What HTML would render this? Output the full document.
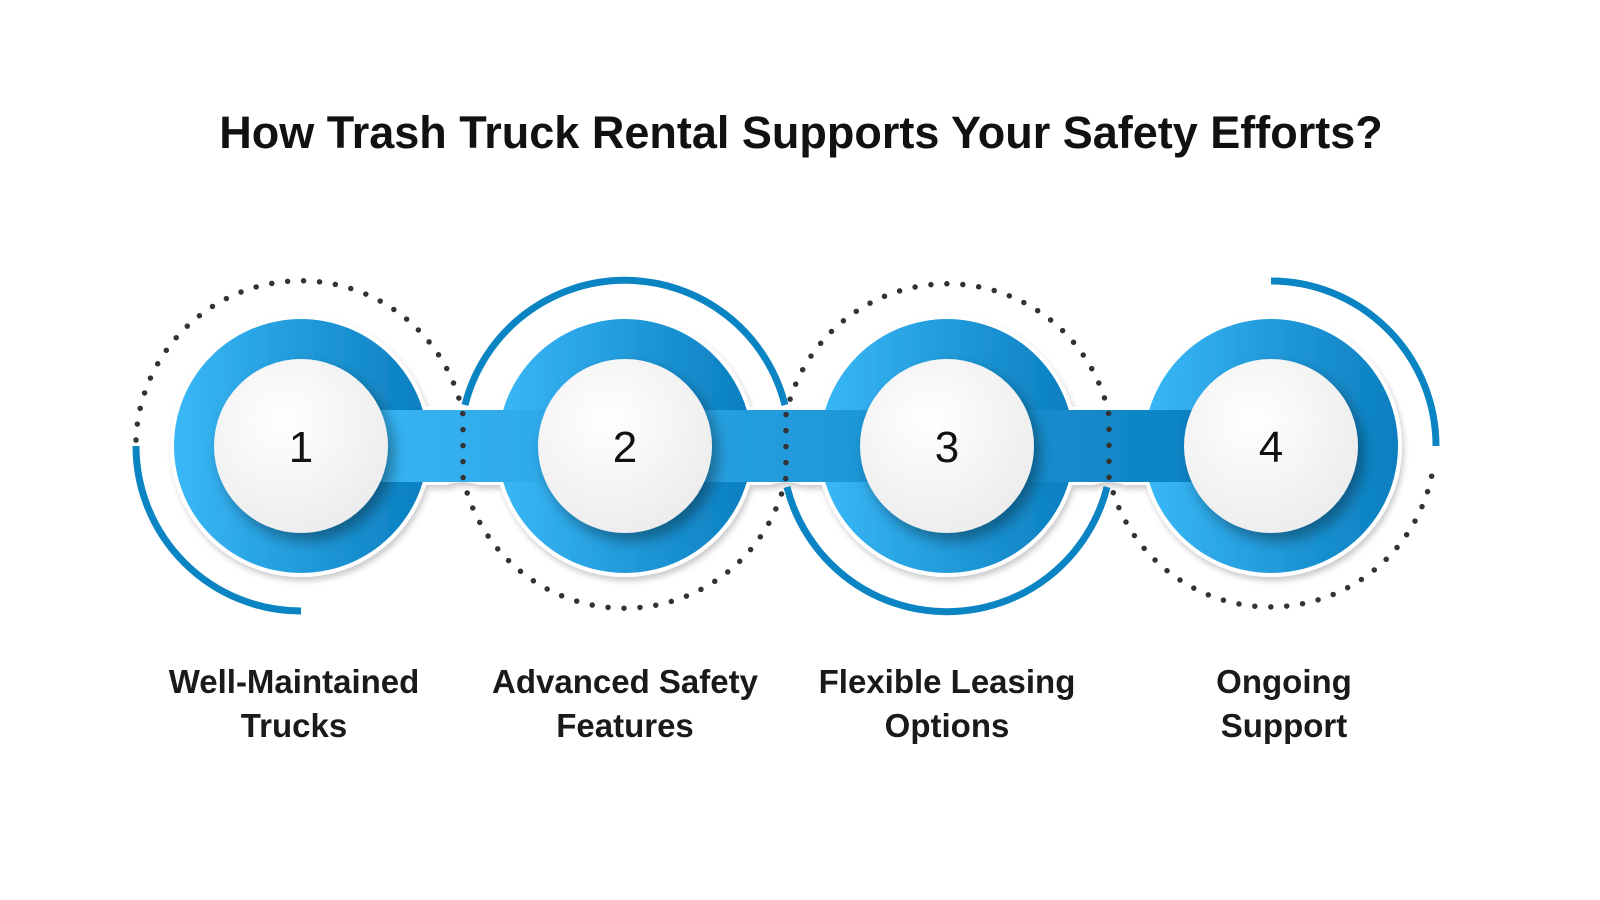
<!DOCTYPE html>
<html><head><meta charset="utf-8"><style>
body{margin:0;background:#fff;}
svg{display:block}
text{font-family:"Liberation Sans","DejaVu Sans",sans-serif;}
</style></head><body>
<svg width="1600" height="900" viewBox="0 0 1600 900">
<defs>
<linearGradient id="bg" x1="0" x2="1" y1="0" y2="0">
<stop offset="0" stop-color="#3ab8f7"/><stop offset="1" stop-color="#0a7ebf"/>
</linearGradient>
<radialGradient id="wg" cx="0.4" cy="0.35" r="0.7">
<stop offset="0" stop-color="#ffffff"/><stop offset="1" stop-color="#ececec"/>
</radialGradient>
<filter id="sh" x="-30%" y="-30%" width="160%" height="160%">
<feDropShadow dx="6" dy="8" stdDeviation="7" flood-color="#000" flood-opacity="0.35"/>
</filter>
<filter id="sh2" x="-10%" y="-30%" width="120%" height="160%">
<feDropShadow dx="2" dy="4" stdDeviation="3" flood-color="#000" flood-opacity="0.2"/>
</filter>
<mask id="m">
<rect width="1600" height="900" fill="#fff"/>
<g fill="#000">
<circle cx="463" cy="366" r="44"/><circle cx="463" cy="526" r="44"/>
<circle cx="786" cy="366" r="44"/><circle cx="786" cy="526" r="44"/>
<circle cx="1109" cy="366" r="44"/><circle cx="1109" cy="526" r="44"/>
</g>
</mask>
</defs>
<text x="801" y="148" text-anchor="middle" font-size="45" font-weight="bold" fill="#111">How Trash Truck Rental Supports Your Safety Efforts?</text>

<g filter="url(#sh2)">
<g mask="url(#m)">
<g fill="#fff">
<circle cx="301" cy="446" r="131"/>
<circle cx="625" cy="446" r="131"/>
<circle cx="947" cy="446" r="131"/>
<circle cx="1271" cy="446" r="131"/>
<rect x="301" y="407" width="970" height="78"/>
</g>
<g fill="url(#bg)">
<circle cx="301" cy="446" r="127"/>
<circle cx="625" cy="446" r="127"/>
<circle cx="947" cy="446" r="127"/>
<circle cx="1271" cy="446" r="127"/>
<rect x="301" y="410" width="970" height="72"/>
</g>
</g>
</g>

<g fill="url(#wg)" filter="url(#sh)">
<circle cx="301" cy="446" r="87"/>
<circle cx="625" cy="446" r="87"/>
<circle cx="947" cy="446" r="87"/>
<circle cx="1271" cy="446" r="87"/>
</g>

<g fill="none" stroke="#0b84c4" stroke-width="7">
<path d="M136,446 A165,165 0 0 0 301,611"/>
<path d="M465,405 A165,165 0 0 1 785,405"/>
<path d="M787,487 A165,165 0 0 0 1107,487"/>
<path d="M1271,281 A165,165 0 0 1 1436,446"/>
</g>
<path fill="none" stroke="#333" stroke-width="5.5" stroke-linecap="round" stroke-dasharray="0 16"
d="M136,440 A165,165 0 0 1 463,415 L463,477 A165,165 0 0 0 786,477 L786,415 A165,165 0 0 1 1109,415 L1109,477 A165,165 0 0 0 1434,462"/>

<g font-size="44" text-anchor="middle" fill="#111">
<text x="301" y="462">1</text>
<text x="625" y="462">2</text>
<text x="947" y="462">3</text>
<text x="1271" y="462">4</text>
</g>
<g font-size="33" font-weight="bold" text-anchor="middle" fill="#1a1a1a">
<text x="294" y="693">Well-Maintained</text><text x="294" y="737">Trucks</text>
<text x="625" y="693">Advanced Safety</text><text x="625" y="737">Features</text>
<text x="947" y="693">Flexible Leasing</text><text x="947" y="737">Options</text>
<text x="1284" y="693">Ongoing</text><text x="1284" y="737">Support</text>
</g>
</svg>
</body></html>
